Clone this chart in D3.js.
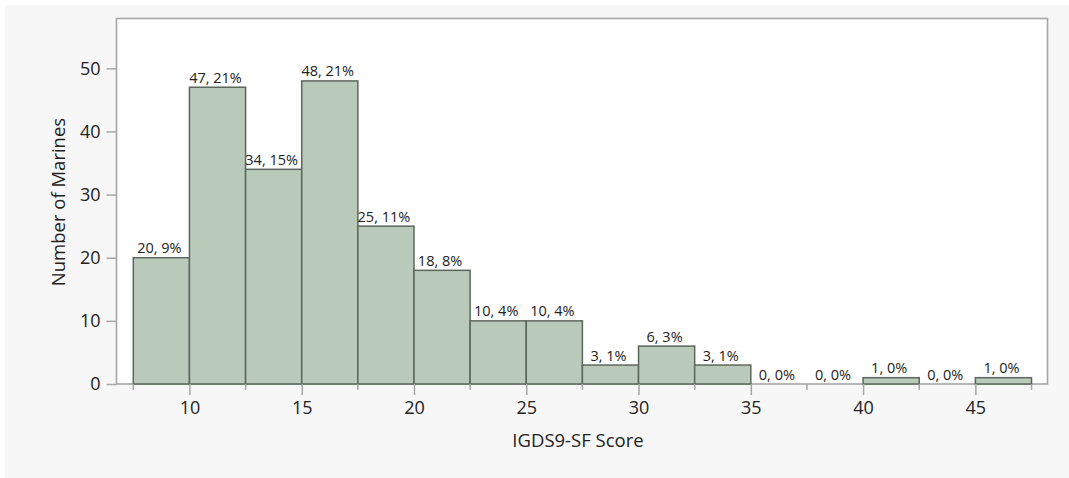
<!DOCTYPE html>
<html>
<head>
<meta charset="utf-8">
<script src="https://cdn.jsdelivr.net/npm/d3@7"></script>
<style>
  html, body { margin: 0; padding: 0; background: #ffffff; }
  svg { display: block; }
  text { font-family: "Open Sans", "Noto Sans", sans-serif; fill: #222; }
</style>
</head>
<body>
<svg id="chart" width="1069" height="478"></svg>
<script>
// Histogram of IGDS9-SF scores, bins of width 2.5
const binStarts = [7.5, 10, 12.5, 15, 17.5, 20, 22.5, 25, 27.5, 30, 32.5, 35, 37.5, 40, 42.5, 45];
const binWidth = 2.5;
const counts = [20, 47, 34, 48, 25, 18, 10, 10, 3, 6, 3, 0, 0, 1, 0, 1];
const percents = [9, 21, 15, 21, 11, 8, 4, 4, 1, 3, 1, 0, 0, 0, 0, 0];
const xTicks = [10, 15, 20, 25, 30, 35, 40, 45];
const xMinorTicks = [7.5, 12.5, 17.5, 22.5, 27.5, 32.5, 37.5, 42.5, 47.5];
const yTicks = [0, 10, 20, 30, 40, 50];
const xTitle = "IGDS9-SF Score";
const yTitle = "Number of Marines";

const svg = d3.select("#chart");
const W = 1069, H = 478;

// panel background
svg.append("rect").attr("x", 5).attr("y", 5).attr("width", W - 5).attr("height", H - 5)
  .attr("fill", "#f7f7f7");

// plot frame
const frame = { left: 116.5, top: 18.5, right: 1047.5, bottom: 384 };
svg.append("rect")
  .attr("x", frame.left).attr("y", frame.top)
  .attr("width", frame.right - frame.left).attr("height", frame.bottom - frame.top)
  .attr("fill", "#ffffff").attr("stroke", "#a6a6a6").attr("stroke-width", 1.6);

const x = d3.scaleLinear().domain([7.5, 47.5]).range([133.3, 1031.5]);
const y = d3.scaleLinear().domain([0, 50]).range([384, 68.3]);

// bars
const bins = binStarts.map((s, i) => ({ x0: s, x1: s + binWidth, n: counts[i], p: percents[i] }));
svg.append("g").selectAll("rect").data(bins.filter(d => d.n > 0)).join("rect")
  .attr("x", d => x(d.x0)).attr("y", d => y(d.n))
  .attr("width", d => x(d.x1) - x(d.x0)).attr("height", d => y(0) - y(d.n))
  .attr("fill", "#b9c9ba").attr("stroke", "#5c675c").attr("stroke-width", 1.5);

// bar labels: count, percent
svg.append("g").selectAll("text").data(bins).join("text")
  .attr("x", d => (x(d.x0) + x(d.x1)) / 2 - 2)
  .attr("y", d => y(d.n) - 4.5)
  .attr("text-anchor", "middle")
  .attr("font-size", 14.5)
  .text(d => `${d.n}, ${d.p}%`);

// x axis
const xAxis = svg.append("g").attr("transform", `translate(0,${frame.bottom})`);
xAxis.call(d3.axisBottom(x).tickValues(xTicks).tickSize(11).tickPadding(6).tickFormat(d3.format("d")));
xAxis.select(".domain").remove();
xAxis.selectAll(".tick line").attr("stroke", "#a6a6a6").attr("stroke-width", 1.5);
xAxis.selectAll(".tick text").attr("font-size", 18).attr("fill", "#222")
  .attr("font-family", "'Open Sans', sans-serif");
xAxis.append("g").selectAll("line").data(xMinorTicks).join("line")
  .attr("x1", d => x(d)).attr("x2", d => x(d)).attr("y1", 0).attr("y2", 6)
  .attr("stroke", "#a6a6a6").attr("stroke-width", 1.5);

// y axis
const yAxis = svg.append("g").attr("transform", `translate(${frame.left},0)`);
yAxis.call(d3.axisLeft(y).tickValues(yTicks).tickSize(10).tickPadding(6).tickFormat(d3.format("d")));
yAxis.select(".domain").remove();
yAxis.selectAll(".tick line").attr("stroke", "#a6a6a6").attr("stroke-width", 1.5);
yAxis.selectAll(".tick text").attr("font-size", 18).attr("fill", "#222")
  .attr("font-family", "'Open Sans', sans-serif");

// axis titles
svg.append("text").attr("x", 578).attr("y", 447)
  .attr("text-anchor", "middle").attr("font-size", 18.5).text(xTitle);
svg.append("text").attr("transform", "translate(65,202) rotate(-90)")
  .attr("text-anchor", "middle").attr("font-size", 18.5).text(yTitle);
</script>
</body>
</html>
